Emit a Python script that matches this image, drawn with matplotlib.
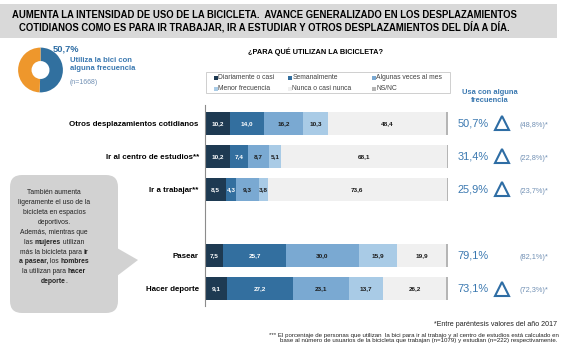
import matplotlib
matplotlib.use("Agg")
import matplotlib.pyplot as plt
from matplotlib.patches import FancyBboxPatch, Polygon, Rectangle
import numpy as np

plt.rcParams["font.family"] = ["Liberation Sans", "DejaVu Sans"]

# ── Data ──
categories = ["Otros desplazamientos cotidianos", "Ir al centro de estudios**",
              "Ir a trabajar**", "Pasear", "Hacer deporte"]
rows = [0, 1, 2, 4, 5]  # blank slot between the two groups
series = ["Diariamente o casi", "Semanalmente", "Algunas veces al mes",
          "Menor frecuencia", "Nunca o casi nunca", "NS/NC"]
diario = [10.2, 10.2, 8.5, 7.5, 9.1]
semanal = [14.0, 7.4, 4.3, 25.7, 27.2]
mensual = [16.2, 8.7, 9.3, 30.0, 23.1]
menor = [10.3, 5.1, 3.8, 15.9, 13.7]
nunca = [48.4, 68.1, 73.6, 19.9, 26.2]
nsnc = [0.9, 0.5, 0.5, 1.0, 0.7]
freq_2019 = [50.7, 31.4, 25.9, 79.1, 73.1]
freq_2017 = [48.8, 22.8, 23.7, 82.1, 72.3]
donut_vals = [50.7, 49.3]
n_total = 1668

# ── Colors ──
SEG_COLORS = ["#1e3a52", "#336f9f", "#7aa9d2", "#a9cbe6", "#f0f0f0", "#b5b5b5"]
LABEL_COLORS = ["white", "white", "#1a1a1a", "#1a1a1a", "#1a1a1a", "#1a1a1a"]
BLUE = "#2e6da4"
BLUE_TXT = "#3a78b0"
GRAY_BLUE = "#7190b4"
BAND = "#d9d9d9"
BUBBLE = "#d2d2d2"

W, H = 567, 351


def fx(x):
    return x / W


def fy(y):
    return 1 - y / H


def fmt(v):
    return f"{v:.1f}".replace(".", ",")


fig = plt.figure(figsize=(W / 100, H / 100), dpi=100, facecolor="white")

# overlay in pixel coordinates for decorations
ov = fig.add_axes([0, 0, 1, 1])
ov.set_xlim(0, W)
ov.set_ylim(H, 0)
ov.axis("off")

# ── Header band ──
ov.add_patch(Rectangle((0, 4), 557, 34, facecolor=BAND, edgecolor="none"))
fig.text(fx(264), fy(15), "AUMENTA LA INTENSIDAD DE USO DE LA BICICLETA.  AVANCE GENERALIZADO EN LOS DESPLAZAMIENTOS",
         fontsize=6.85, fontweight="bold", ha="center", va="center", color="black")
fig.text(fx(264), fy(27), "COTIDIANOS COMO ES PARA IR TRABAJAR, IR A ESTUDIAR Y OTROS DESPLAZAMIENTOS DEL DÍA A DÍA.",
         fontsize=6.85, fontweight="bold", ha="center", va="center", color="black")

# ── Donut ──
r_px = 28
ax_pie = fig.add_axes([fx(40.5 - r_px), fy(70 + r_px), 2 * r_px / W, 2 * r_px / H])
ax_pie.pie(donut_vals, colors=["#31709f", "#ee972c"], startangle=90, counterclock=False,
           radius=1, wedgeprops=dict(width=0.6, edgecolor="none"))
ax_pie.set_aspect("equal")
fig.text(fx(53), fy(49), f"{fmt(donut_vals[0])}%", fontsize=6.7, fontweight="bold",
         color=BLUE, va="center")
fig.text(fx(70), fy(60), "Utiliza la bici con", fontsize=5.5, fontweight="bold",
         color=BLUE_TXT, va="center")
fig.text(fx(70), fy(69), "alguna frecuencia", fontsize=5.5, fontweight="bold",
         color=BLUE_TXT, va="center")
fig.text(fx(70), fy(82), f"(n={n_total})", fontsize=5, color=GRAY_BLUE, va="center")

# ── Chart title + legend ──
fig.text(fx(316), fy(52), "¿PARA QUÉ UTILIZAN LA BICICLETA?", fontsize=5.3,
         fontweight="bold", ha="center", va="center")
ov.add_patch(Rectangle((206, 72), 244, 21, facecolor="white", edgecolor="#c8c8c8", lw=0.6))
leg_x = [215, 289, 373]
leg_y = [77.5, 88.5]
for i, name in enumerate(series):
    x = leg_x[i % 3]
    y = leg_y[i // 3]
    ov.add_patch(Rectangle((x - 1.5, y - 2), 4, 4, facecolor=SEG_COLORS[i], edgecolor="none"))
    ov.text(x + 3.5, y, name, fontsize=4.9, color="#404040", va="center", ha="left")

# ── Bars ──
ax = fig.add_axes([fx(205), fy(306), (448 - 205) / W, (306 - 105) / H])
data = [diario, semanal, mensual, menor, nunca, nsnc]
left = np.zeros(len(categories))
for vals, color, lc in zip(data, SEG_COLORS, LABEL_COLORS):
    vals = np.array(vals)
    ax.barh(rows, vals, left=left, height=0.7, color=color, edgecolor="none")
    for r, l, v in zip(rows, left, vals):
        if v >= 2:
            ax.text(l + v / 2, r, fmt(v), ha="center", va="center", fontsize=4.6,
                    fontweight="bold", color=lc)
    left += vals

ax.set_xlim(0, 100)
ax.set_ylim(5.53, -0.56)
ax.set_yticks(rows, categories)
ax.tick_params(axis="y", length=0, pad=4.5, labelsize=5.7)
for t in ax.get_yticklabels():
    t.set_fontweight("bold")
ax.set_xticks([])
for s in ["top", "right", "bottom"]:
    ax.spines[s].set_visible(False)
ax.spines["left"].set_color("#8c8c8c")
ax.spines["left"].set_linewidth(0.8)
ax.set_facecolor("none")

# right column
for r, now, before in zip(rows, freq_2019, freq_2017):
    ax.text(110.3, r, f"{fmt(now)}%", ha="center", va="center", fontsize=7.9,
            color=BLUE_TXT, clip_on=False)
    if now > before:
        ax.plot(122.2, r, marker="^", markersize=10.5, markerfacecolor="none",
                markeredgecolor=BLUE, markeredgewidth=1.5, clip_on=False)
    ax.text(129.6, r + 0.05, f"({fmt(before)}%)*", ha="left", va="center",
            fontsize=5.3, color=GRAY_BLUE, clip_on=False)

fig.text(fx(490), fy(92), "Usa con alguna", fontsize=5.4, fontweight="bold",
         color=BLUE_TXT, ha="center", va="center")
fig.text(fx(490), fy(101), "frecuencia", fontsize=5.4, fontweight="bold",
         color=BLUE_TXT, ha="center", va="center")

# ── Callout bubble ──
ov.add_patch(FancyBboxPatch((10, 175), 108, 138, boxstyle="round,pad=0,rounding_size=12",
                            facecolor=BUBBLE, edgecolor="none"))
ov.add_patch(Polygon([[117, 248], [138, 260], [117, 276]], closed=True,
                     facecolor=BUBBLE, edgecolor="none"))

bubble_lines = [
    [("También aumenta", False)],
    [("ligeramente el uso de la", False)],
    [("bicicleta en espacios", False)],
    [("deportivos.", False)],
    [("Además, mientras que", False)],
    [("las ", False), ("mujeres", True), (" utilizan", False)],
    [("más la bicicleta para ", False), ("ir", True)],
    [("a pasear,", True), (" los ", False), ("hombres", True)],
    [("la utilizan para ", False), ("hacer", True)],
    [("deporte", True), (".", False)],
]
renderer = fig.canvas.get_renderer()
BFS = 4.85


def seg_width(txt, bold):
    # measure with a marker char so leading/trailing spaces count
    t = ov.text(0, 0, "|" + txt + "|", fontsize=BFS, fontweight="bold" if bold else "normal")
    w = t.get_window_extent(renderer).width
    t.remove()
    t = ov.text(0, 0, "||", fontsize=BFS, fontweight="bold" if bold else "normal")
    w -= t.get_window_extent(renderer).width
    t.remove()
    return w


y0, dy = 193, 9.85
for i, line in enumerate(bubble_lines):
    widths = [seg_width(s, b) for s, b in line]
    x = 54 - sum(widths) / 2
    for (s, b), w in zip(line, widths):
        ov.text(x, y0 + i * dy, s, fontsize=BFS, fontweight="bold" if b else "normal",
                color="#222222", ha="left", va="center")
        x += w

# ── Footer ──
fig.text(fx(557), fy(325), "*Entre paréntesis valores del año 2017", fontsize=5.1,
         ha="right", va="center", color="#222222")
fig.text(fx(559), fy(335), "*** El porcentaje de personas que utilizan  la bici para ir al trabajo y al centro de estudios está calculado en",
         fontsize=4.4, ha="right", va="center", color="#222222")
fig.text(fx(557), fy(340.5), "base al número de usuarios de la bicicleta que trabajan (n=1079) y estudian (n=222) respectivamente.",
         fontsize=4.4, ha="right", va="center", color="#222222")

fig.savefig("out.png", dpi=100, facecolor="white")
